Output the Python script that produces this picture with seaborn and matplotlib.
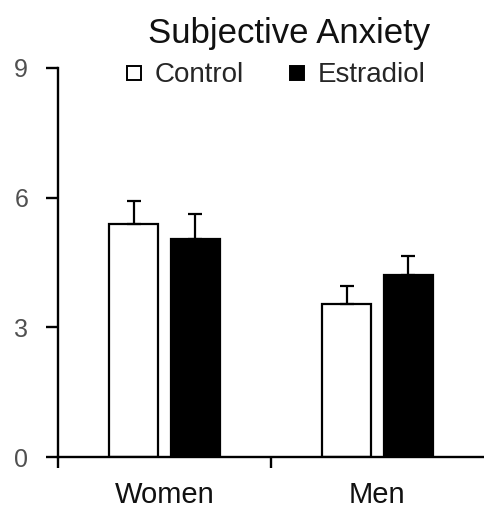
import matplotlib
matplotlib.use("Agg")
import matplotlib.pyplot as plt
from matplotlib.lines import Line2D
import seaborn as sns
import pandas as pd
import numpy as np

# Mean subjective anxiety scores and standard errors
groups = ["Women", "Men"]
conditions = ["Control", "Estradiol"]
control_means = [5.40, 3.53]
estradiol_means = [5.05, 4.22]
control_sem = [0.51, 0.42]
estradiol_sem = [0.58, 0.44]
y_ticks = [0, 3, 6, 9]

df = pd.DataFrame({
    "group": groups * 2,
    "condition": ["Control"] * 2 + ["Estradiol"] * 2,
    "score": control_means + estradiol_means,
})
sem_by_condition = {"Control": control_sem, "Estradiol": estradiol_sem}

sns.set_theme(style="ticks")
plt.rcParams["font.family"] = ["Liberation Sans", "DejaVu Sans"]

fig = plt.figure(figsize=(4.85, 5.12), dpi=100)
ax = fig.add_axes([0.1196, 0.1074, 0.878, 0.760])

sns.barplot(
    data=df, x="group", y="score", hue="condition",
    order=groups, hue_order=conditions,
    palette={"Control": "white", "Estradiol": "black"},
    edgecolor="black", linewidth=1.6, width=0.58, gap=0.2,
    errorbar=None, legend=False, ax=ax,
)

# One-sided (upper) error bars on each bar
for cond, container in zip(conditions, ax.containers):
    errs = sem_by_condition[cond]
    for bar, err in zip(container.patches, errs):
        xc = bar.get_x() + bar.get_width() / 2
        top = bar.get_height()
        ax.errorbar(xc, top, yerr=[[0], [err]], fmt="none", ecolor="black",
                    elinewidth=1.6, capsize=4.7, capthick=1.6, zorder=1)

ax.set_xlim(-0.5, 1.5)
ax.set_ylim(0, 9)
ax.set_yticks(y_ticks)
ax.set_xlabel("")
ax.set_ylabel("")
sns.despine(ax=ax)
for side in ["left", "bottom"]:
    ax.spines[side].set_linewidth(1.7)
    ax.spines[side].set_color("black")

ax.tick_params(axis="y", direction="out", length=8.5, width=1.7, color="black",
               labelsize=18, labelcolor="#505050", pad=13)
ax.tick_params(axis="x", which="major", length=0, labelsize=21,
               labelcolor="#111111", pad=17)
ax.set_xticks([-0.5, 0.5], minor=True)
ax.tick_params(axis="x", which="minor", direction="out", length=8, width=1.7,
               color="black")

fig.text(0.596, 0.935, "Subjective Anxiety", ha="center", va="center",
         fontsize=25, color="#111111")

handles = [
    Line2D([0], [0], marker="s", linestyle="none", markersize=9.5,
           markerfacecolor=c, markeredgecolor="black", markeredgewidth=1.4)
    for c in ["white", "black"]
]
fig.legend(handles, conditions, loc="center", bbox_to_anchor=(0.565, 0.853),
           ncol=2, frameon=False, fontsize=20, handlelength=0.8,
           handletextpad=0.35, columnspacing=1.5, borderaxespad=0)

fig.savefig("out.png", dpi=100)
